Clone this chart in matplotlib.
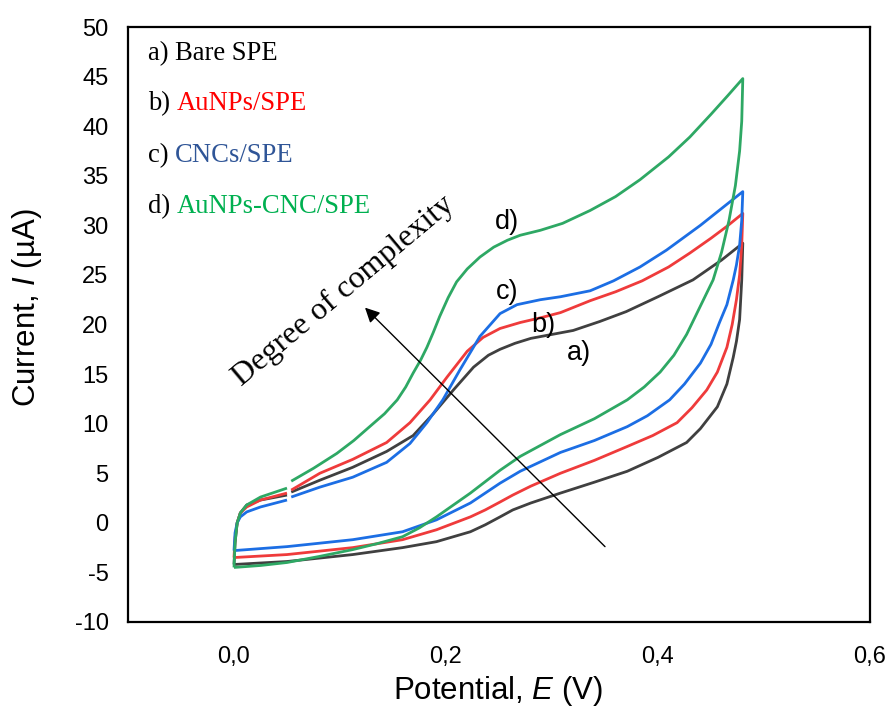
import numpy as np
import matplotlib
matplotlib.use("Agg")
import matplotlib.pyplot as plt
from matplotlib.ticker import FuncFormatter

plt.rcParams["mathtext.fontset"] = "custom"
plt.rcParams["mathtext.it"] = "Liberation Sans:italic"
plt.rcParams["mathtext.rm"] = "Liberation Sans"

nan = np.nan

# ---- data (potential in V, current in uA) ----
# a) Bare SPE
a_fwd_E = [0.000, 0.001, 0.003, 0.006, 0.012, 0.025, 0.050, nan, 0.054, 0.081, 0.112, 0.144, 0.169, 0.188,
           0.207, 0.226, 0.240, 0.251, 0.265, 0.280, 0.300, 0.320, 0.345, 0.370, 0.400, 0.433, 0.460, 0.480]
a_fwd_I = [-4.2, -2.0, 0.0, 1.0, 1.8, 2.3, 2.8, nan, 3.1, 4.3, 5.6, 7.2, 8.8, 11.0,
           13.4, 15.7, 16.9, 17.5, 18.1, 18.6, 19.0, 19.4, 20.3, 21.3, 22.8, 24.5, 26.5, 28.2]
a_rev_E = [0.480, 0.479, 0.477, 0.474, 0.471, 0.465, 0.456, 0.440, 0.427, 0.400, 0.371, 0.340, 0.308,
           0.280, 0.263, 0.251, 0.237, 0.223, 0.191, 0.159, 0.112, 0.050, 0.000]
a_rev_I = [28.2, 24.5, 20.5, 18.3, 16.7, 14.0, 11.7, 9.5, 8.1, 6.6, 5.2, 4.1, 3.0,
           2.0, 1.3, 0.6, -0.2, -0.9, -1.9, -2.5, -3.2, -3.9, -4.2]

# b) AuNPs/SPE
b_fwd_E = [0.000, 0.001, 0.003, 0.006, 0.012, 0.025, 0.050, nan, 0.054, 0.081, 0.112, 0.144, 0.166, 0.185,
           0.201, 0.220, 0.235, 0.251, 0.270, 0.290, 0.308, 0.336, 0.360, 0.385, 0.410, 0.430, 0.450,
           0.465, 0.480]
b_fwd_I = [-3.5, -1.5, 0.0, 1.0, 1.6, 2.3, 3.0, nan, 3.3, 5.0, 6.4, 8.1, 10.1, 12.4,
           14.7, 17.3, 18.7, 19.6, 20.2, 20.7, 21.2, 22.4, 23.3, 24.4, 25.8, 27.2, 28.7,
           29.9, 31.2]
b_rev_E = [0.480, 0.479, 0.477, 0.474, 0.470, 0.465, 0.456, 0.446, 0.432, 0.418, 0.395, 0.371, 0.340,
           0.308, 0.280, 0.263, 0.251, 0.237, 0.223, 0.191, 0.159, 0.112, 0.050, 0.000]
b_rev_I = [31.2, 28.0, 25.0, 22.5, 20.0, 17.7, 15.2, 13.4, 11.6, 10.1, 8.8, 7.7, 6.3,
           5.0, 3.7, 2.8, 2.1, 1.3, 0.6, -0.7, -1.7, -2.5, -3.2, -3.5]

# c) CNCs/SPE
c_fwd_E = [0.000, 0.001, 0.003, 0.006, 0.012, 0.025, 0.050, nan, 0.054, 0.081, 0.112, 0.144, 0.166, 0.182,
           0.197, 0.213, 0.232, 0.251, 0.267, 0.289, 0.308, 0.336, 0.358, 0.383, 0.408, 0.440, 0.460, 0.480]
c_fwd_I = [-2.8, -1.0, 0.0, 0.6, 1.1, 1.6, 2.3, nan, 2.6, 3.6, 4.6, 6.1, 8.0, 10.1,
           12.4, 15.4, 18.8, 21.1, 22.0, 22.5, 22.8, 23.4, 24.4, 25.8, 27.5, 30.0, 31.7, 33.4]
c_rev_E = [0.480, 0.479, 0.477, 0.474, 0.471, 0.465, 0.458, 0.450, 0.440, 0.425, 0.411, 0.390, 0.371,
           0.340, 0.308, 0.270, 0.251, 0.237, 0.223, 0.191, 0.159, 0.112, 0.050, 0.000]
c_rev_I = [33.4, 30.5, 28.0, 26.0, 24.5, 22.0, 20.2, 18.0, 16.1, 14.0, 12.4, 10.8, 9.7,
           8.3, 7.1, 5.2, 4.0, 3.0, 2.0, 0.3, -0.9, -1.7, -2.4, -2.8]

# d) AuNPs-CNC/SPE
d_fwd_E = [0.000, 0.001, 0.003, 0.006, 0.012, 0.025, 0.050, nan, 0.054, 0.075, 0.097, 0.113, 0.128, 0.142,
           0.154, 0.162, 0.169, 0.176, 0.182, 0.188, 0.194, 0.202, 0.210, 0.220, 0.232, 0.245, 0.258,
           0.270, 0.289, 0.310, 0.336, 0.360, 0.383, 0.410, 0.430, 0.450, 0.466, 0.480]
d_fwd_I = [-4.5, -2.0, 0.0, 1.0, 1.8, 2.6, 3.5, nan, 4.2, 5.5, 7.0, 8.3, 9.7, 11.0,
           12.4, 13.7, 15.1, 16.4, 17.7, 19.2, 20.8, 22.7, 24.3, 25.6, 26.8, 27.8, 28.5,
           29.0, 29.5, 30.2, 31.5, 32.9, 34.6, 36.9, 38.9, 41.2, 43.1, 44.8]
d_rev_E = [0.480, 0.479, 0.477, 0.473, 0.467, 0.460, 0.452, 0.442, 0.427, 0.415, 0.402, 0.387, 0.371,
           0.340, 0.308, 0.270, 0.251, 0.223, 0.191, 0.175, 0.159, 0.135, 0.112, 0.080, 0.050, 0.025,
           0.000]
d_rev_I = [44.8, 40.5, 37.5, 34.0, 30.5, 27.3, 24.5, 22.3, 19.0, 16.9, 15.2, 13.7, 12.4,
           10.5, 8.9, 6.7, 5.3, 3.0, 0.6, -0.5, -1.4, -2.1, -2.7, -3.4, -4.0, -4.3,
           -4.5]

series_names = ["a) ", "b) ", "c) ", "d) "]
legend_texts = ["Bare SPE", "AuNPs/SPE", "CNCs/SPE", "AuNPs-CNC/SPE"]
curve_labels = ["a)", "b)", "c)", "d)"]
x_ticks = [0.0, 0.2, 0.4, 0.6]
y_ticks = list(range(-10, 51, 5))

line_colors = ["#404040", "#EF3B3B", "#1C6EE4", "#2EA864"]
text_colors = ["#000000", "#FF0000", "#2F5597", "#00B050"]

curves = [
    (a_fwd_E, a_fwd_I, a_rev_E, a_rev_I),
    (b_fwd_E, b_fwd_I, b_rev_E, b_rev_I),
    (c_fwd_E, c_fwd_I, c_rev_E, c_rev_I),
    (d_fwd_E, d_fwd_I, d_rev_E, d_rev_I),
]

fig = plt.figure(figsize=(8.9, 7.13), dpi=100)
ax = fig.add_axes([128 / 890, 1 - 622 / 713, 742 / 890, 595 / 713])

for (fe, fi, re_, ri), col in zip(curves, line_colors):
    E = list(fe) + list(re_)
    I = list(fi) + list(ri)
    ax.plot(E, I, color=col, lw=2.0, solid_joinstyle="round", solid_capstyle="butt")

ax.set_xlim(-0.1, 0.6)
ax.set_ylim(-10, 50)
ax.set_xticks(x_ticks)
ax.set_yticks(y_ticks)
ax.xaxis.set_major_formatter(FuncFormatter(lambda v, p: f"{v:.1f}".replace(".", ",")))
ax.yaxis.set_major_formatter(FuncFormatter(lambda v, p: f"{int(round(v))}"))
ax.tick_params(axis="both", length=0, labelsize=17)
ax.tick_params(axis="y", pad=14)
ax.tick_params(axis="x", pad=17)
for lab in ax.get_xticklabels() + ax.get_yticklabels():
    lab.set_family("Liberation Sans")
for sp in ax.spines.values():
    sp.set_linewidth(1.6)
    sp.set_color("black")

ax.set_xlabel("Potential, $\\mathit{E}$ (V)", fontsize=22.5, family="Liberation Sans")
ax.set_ylabel("Current, $\\mathit{I}$ (µA)", fontsize=22.5, family="Liberation Sans")
ax.xaxis.set_label_coords(0.4993, -0.087)
ax.yaxis.set_label_coords(-0.113, 0.528)

# legend-like text block
legend_y = [0.956, 0.872, 0.784, 0.698]
for nm, txt, tc, yy in zip(series_names, legend_texts, text_colors, legend_y):
    t1 = ax.text(0.027, yy, nm, transform=ax.transAxes, fontsize=19.2, family="Liberation Serif",
                 color="black", ha="left", va="center")
    fig.canvas.draw()
    bb = t1.get_window_extent().transformed(ax.transAxes.inverted())
    ax.text(bb.x1, yy, txt, transform=ax.transAxes, fontsize=19.2, family="Liberation Serif",
            color=tc, ha="left", va="center")

# curve labels
label_pos = [(0.325, 17.1), (0.292, 20.0), (0.2575, 23.3), (0.2575, 30.3)]
for lbl, (lx, ly) in zip(curve_labels, label_pos):
    ax.text(lx, ly, lbl, fontsize=19.5, family="Liberation Sans", ha="center", va="center")

# arrow
ax.annotate("", xy=(0.1236, 21.7), xytext=(0.350, -2.4),
            arrowprops=dict(arrowstyle="-|>", color="black", lw=1.0, mutation_scale=22,
                            shrinkA=0, shrinkB=0))
ax.text(0.1038, 23.4, "Degree of complexity", rotation=40, fontsize=23, family="Liberation Serif",
        ha="center", va="center", rotation_mode="anchor")

fig.savefig("out.png", dpi=100)
